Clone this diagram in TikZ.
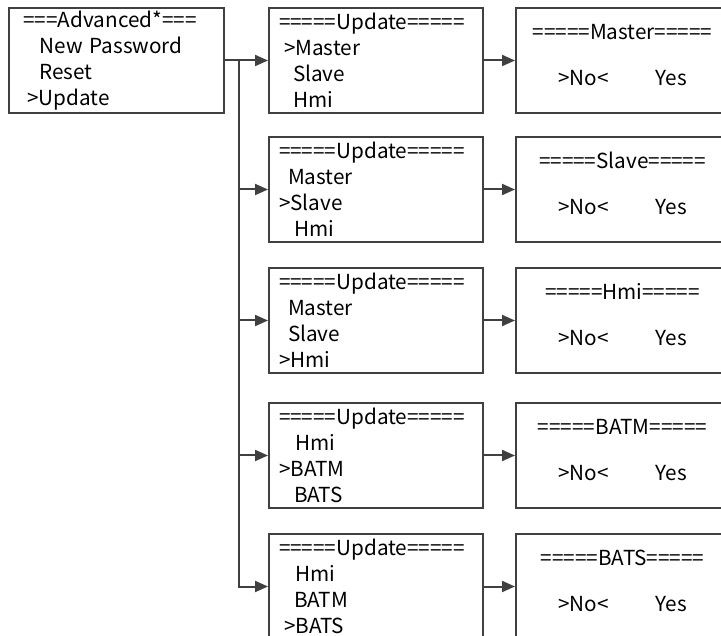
\documentclass[tikz,border=0pt]{standalone}
\usepackage{fontspec}
\setmainfont{Noto Sans CJK SC}
\usepackage{tikz}
\usetikzlibrary{arrows.meta,positioning}
\definecolor{frame}{RGB}{64,64,64}

\begin{document}
\begin{tikzpicture}[
  x=1pt, y=1pt,
  font=\fontsize{20.7}{26}\selectfont,
  menu/.style={draw=frame, line width=2pt, minimum width=214pt, minimum height=105pt,
               inner xsep=10pt, text width=194pt, align=left},
  confirm/.style={draw=frame, line width=2pt, minimum width=213pt, minimum height=105pt,
                  inner xsep=0pt, text width=213pt, align=center},
  link/.style={-{Triangle[length=13pt,width=11pt]}, line width=2pt, frame},
]
\useasboundingbox (0,0) rectangle (721,-636);
\clip (0,0) rectangle (721,-636);

% Menus
\node[menu, anchor=north west] (upmaster) at (268,-7)
  {=====Update=====\\\hspace*{5pt}>Master\\\hspace*{14pt}Slave\\\hspace*{14pt}Hmi};
\node[menu, below=22pt of upmaster] (upslave)
  {=====Update=====\\\hspace*{9pt}Master\\>Slave\\\hspace*{15pt}Hmi};
\node[menu, below=24pt of upslave] (uphmi)
  {=====Update=====\\\hspace*{9pt}Master\\\hspace*{9pt}Slave\\>Hmi};
\node[menu, below=28pt of uphmi] (upbatm)
  {=====Update=====\\\hspace*{16pt}Hmi\\>BATM\\\hspace*{15pt}BATS};
\node[menu, below=24pt of upbatm] (upbats)
  {=====Update=====\\\hspace*{16pt}Hmi\\\hspace*{15pt}BATM\\\hspace*{5pt}>BATS};
\node[menu, left=43pt of upmaster, minimum width=215pt] (adv)
  {\hspace*{4pt}===Advanced*===\\\hspace*{20pt}New Password\\\hspace*{20pt}Reset\\\hspace*{8pt}>Update};

% Confirm screens
\node[confirm, right=31pt of upmaster] (cfmaster) {=====Master=====\\[20pt]>No<\hspace{47pt}Yes\rule[-12pt]{0pt}{1pt}};
\node[confirm, right=31pt of upslave] (cfslave) {=====Slave=====\\[20pt]>No<\hspace{47pt}Yes\rule[-12pt]{0pt}{1pt}};
\node[confirm, right=31pt of uphmi] (cfhmi) {=====Hmi=====\\[20pt]>No<\hspace{47pt}Yes\rule[-12pt]{0pt}{1pt}};
\node[confirm, right=31pt of upbatm] (cfbatm) {=====BATM=====\\[20pt]>No<\hspace{47pt}Yes\rule[-12pt]{0pt}{1pt}};
\node[confirm, right=31pt of upbats] (cfbats) {=====BATS=====\\[20pt]>No<\hspace{47pt}Yes\rule[-12pt]{0pt}{1pt}};

% Links
\coordinate[right=14pt of adv.east] (split);
\draw[link] (adv) -- (upmaster);
\foreach \n in {upslave,uphmi,upbatm,upbats}
  \draw[link] (split) |- (\n.west);
\foreach \n in {master,slave,hmi,batm,bats}
  \draw[link] (up\n) -- (cf\n);
\end{tikzpicture}
\end{document}
